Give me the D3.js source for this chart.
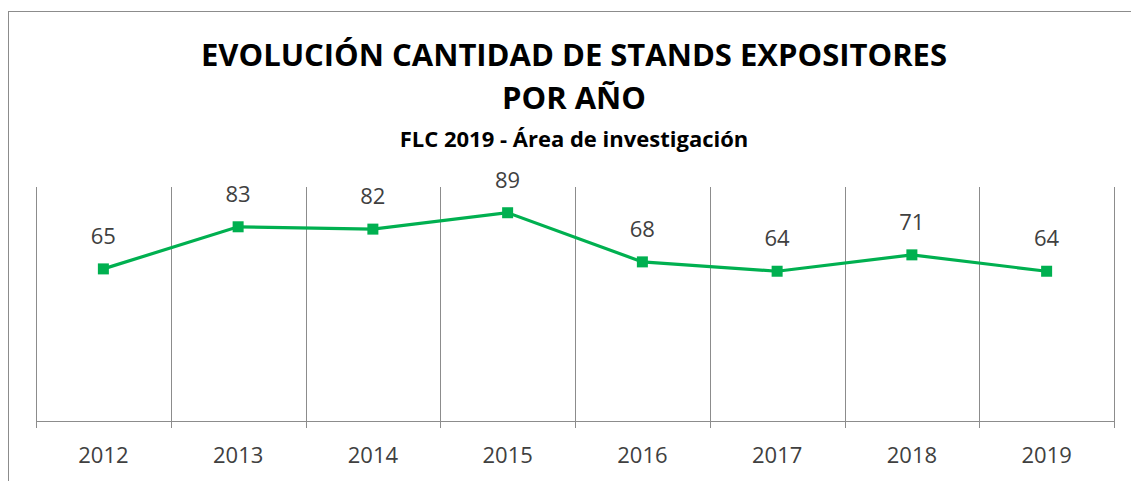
<!DOCTYPE html>
<html>
<head>
<meta charset="utf-8">
<script src="https://cdn.jsdelivr.net/npm/d3@7"></script>
<style>
  body { margin: 0; background: #fff; }
  text { font-family: "Open Sans", sans-serif; }
</style>
</head>
<body>
<div id="chart"></div>
<script>
// datos
let years = ["2012", "2013", "2014", "2015", "2016", "2017", "2018", "2019"];
let stands = [65, 83, 82, 89, 68, 64, 71, 64];
let titleLines = ["EVOLUCIÓN CANTIDAD DE STANDS EXPOSITORES", "POR AÑO"];
let subtitle = "FLC 2019 - Área de investigación";

let width = 1131, height = 481;
let margin = {top: 187, right: 17, bottom: 60, left: 36};

let svg = d3.select("#chart").append("svg")
    .attr("width", width)
    .attr("height", height);

// marco exterior
svg.append("rect")
    .attr("x", 8.5).attr("y", 11.5)
    .attr("width", width + 10).attr("height", height + 10)
    .attr("fill", "none")
    .attr("stroke", "#8c8c8c")
    .attr("stroke-width", 1);

let x = d3.scaleBand()
    .domain(years)
    .range([margin.left, width - margin.right]);

let y = d3.scaleLinear()
    .domain([0, 100])
    .range([height - margin.bottom, margin.top]);

// lineas verticales entre categorias
let bounds = years.map(d => x(d)).concat([x(years[years.length - 1]) + x.bandwidth()]);
svg.append("g")
    .selectAll("line")
    .data(bounds)
    .join("line")
    .attr("x1", d => Math.round(d) + 0.5)
    .attr("x2", d => Math.round(d) + 0.5)
    .attr("y1", y(100))
    .attr("y2", y(0) + 7)
    .attr("stroke", "#8c8c8c")
    .attr("stroke-width", 1);

// eje x
svg.append("line")
    .attr("x1", margin.left).attr("x2", width - margin.right)
    .attr("y1", Math.round(y(0)) + 0.5).attr("y2", Math.round(y(0)) + 0.5)
    .attr("stroke", "#8c8c8c");

let xAxis = svg.append("g")
    .attr("transform", `translate(0,${y(0)})`)
    .call(d3.axisBottom(x).tickSize(0).tickPadding(26));
xAxis.select(".domain").remove();
xAxis.selectAll("text")
    .attr("font-size", 22)
    .attr("fill", "#404040")
    .style("font-family", "'Open Sans', sans-serif");

// serie
let line = d3.line()
    .x((d, i) => x(years[i]) + x.bandwidth() / 2)
    .y(d => y(d));

svg.append("path")
    .datum(stands)
    .attr("d", line)
    .attr("fill", "none")
    .attr("stroke", "#00b050")
    .attr("stroke-width", 3.2);

svg.append("g")
    .selectAll("rect")
    .data(stands)
    .join("rect")
    .attr("x", (d, i) => x(years[i]) + x.bandwidth() / 2 - 5.5)
    .attr("y", d => y(d) - 5.5)
    .attr("width", 11)
    .attr("height", 11)
    .attr("fill", "#00b050");

svg.append("g")
    .selectAll("text")
    .data(stands)
    .join("text")
    .attr("x", (d, i) => x(years[i]) + x.bandwidth() / 2)
    .attr("y", d => y(d) - 25)
    .attr("text-anchor", "middle")
    .attr("font-size", 22)
    .attr("fill", "#404040")
    .text(d => d);

// titulos
svg.append("g")
    .selectAll("text")
    .data(titleLines)
    .join("text")
    .attr("x", 574)
    .attr("y", (d, i) => 66 + i * 43)
    .attr("text-anchor", "middle")
    .attr("font-size", 31)
    .attr("font-weight", "bold")
    .attr("fill", "#000")
    .text(d => d);

svg.append("text")
    .attr("x", 574)
    .attr("y", 147)
    .attr("text-anchor", "middle")
    .attr("font-size", 22)
    .attr("font-weight", "bold")
    .attr("fill", "#000")
    .text(subtitle);
</script>
</body>
</html>
